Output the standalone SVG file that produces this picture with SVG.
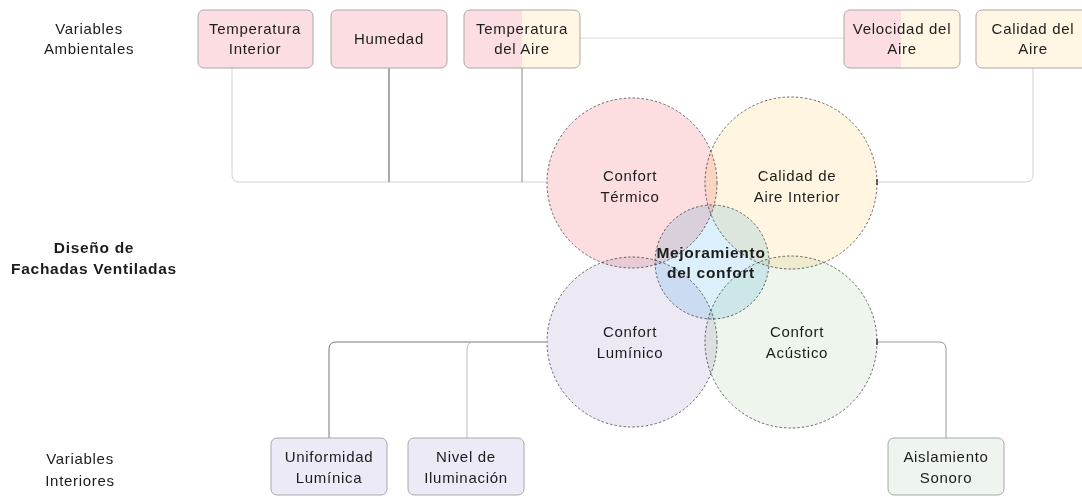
<svg xmlns="http://www.w3.org/2000/svg" width="1082" height="497" viewBox="0 0 1082 497">
<defs>
<style>
text{font-family:"Liberation Sans",Arial,sans-serif;font-size:15px;fill:#1c1c1c;text-anchor:middle;letter-spacing:0.7px}
.b{font-weight:bold;font-size:15.5px;letter-spacing:0.7px}
.box{stroke:#a8a8a8;stroke-width:1}
.pink{fill:#FCDEE2}
.cream{fill:#FFF6E4}
.lav{fill:#ECEAF6}
.green{fill:#EEF5EE}
.c{stroke:#444;stroke-width:0.8;stroke-dasharray:2.5 2;mix-blend-mode:multiply}
.ln{fill:none;stroke-width:1}
</style>
<clipPath id="cpTA"><rect x="464" y="10" width="116" height="58" rx="6"/></clipPath>
<clipPath id="cpVA"><rect x="844" y="10" width="116" height="58" rx="6"/></clipPath>
</defs>
<rect width="1082" height="497" fill="#fff"/>

<g id="connectors">
<path class="ln" d="M232 68 V175 Q232 182 239 182 H547" stroke="#d2d2d2"/>
<line class="ln" x1="389" y1="68" x2="389" y2="182" stroke="#555"/>
<line class="ln" x1="522" y1="68" x2="522" y2="182" stroke="#888"/>
<line class="ln" x1="580" y1="38" x2="844" y2="38" stroke="#dadada" stroke-width="1.5"/>
<path class="ln" d="M1033 68 V175 Q1033 182 1026 182 H877" stroke="#cfcfcf"/>
<line x1="877" y1="179" x2="877" y2="185" stroke="#222" stroke-width="1.2"/>
<path class="ln" d="M546 342 H336 Q329 342 329 349 V438" stroke="#777"/>
<path class="ln" d="M474 342 Q467 342 467 349 V438" stroke="#bbb"/>
<path class="ln" d="M877 342 H939 Q946 342 946 349 V438" stroke="#999"/>
<line x1="877" y1="339" x2="877" y2="345" stroke="#222" stroke-width="1.2"/>
</g>

<g id="circles">
<g id="confort-termico"><circle class="c" cx="632" cy="183" r="85" fill="#FCDDE0"/></g>
<g id="calidad-aire-interior"><circle class="c" cx="791" cy="183" r="86" fill="#FFF5E0"/></g>
<g id="confort-luminico"><circle class="c" cx="632" cy="342" r="85" fill="#ECE9F5"/></g>
<g id="confort-acustico"><circle class="c" cx="791" cy="342" r="86" fill="#EEF5EC"/></g>
<g id="mejoramiento"><circle class="c" cx="712" cy="262" r="57" fill="#DCF0FB"/></g>
</g>
<g id="circle-labels">
<text x="630" y="181">Confort</text>
<text x="630" y="202">Térmico</text>
<text x="797" y="181">Calidad de</text>
<text x="797" y="202">Aire Interior</text>
<text x="630" y="337">Confort</text>
<text x="630" y="358">Lumínico</text>
<text x="797" y="337">Confort</text>
<text x="797" y="358">Acústico</text>
<text class="b" x="711" y="258">Mejoramiento</text>
<text class="b" x="711" y="278">del confort</text>
</g>

<g id="label-ambientales">
<text x="89" y="34">Variables</text>
<text x="89" y="54">Ambientales</text>
</g>
<g id="label-diseno">
<text class="b" x="94" y="253">Diseño de</text>
<text class="b" x="94" y="274">Fachadas Ventiladas</text>
</g>
<g id="label-interiores">
<text x="80" y="464">Variables</text>
<text x="80" y="486">Interiores</text>
</g>

<g id="temperatura-interior">
<rect class="box pink" x="198" y="10" width="115" height="58" rx="6"/>
<text x="255" y="34">Temperatura</text>
<text x="255" y="54">Interior</text>
</g>
<g id="humedad">
<rect class="box pink" x="331" y="10" width="116" height="58" rx="6"/>
<text x="389" y="44">Humedad</text>
</g>
<g id="temperatura-aire">
<g clip-path="url(#cpTA)">
<rect x="464" y="10" width="58" height="58" fill="#FCDEE2"/>
<rect x="522" y="10" width="58" height="58" fill="#FFF6E4"/>
</g>
<rect class="box" x="464" y="10" width="116" height="58" rx="6" fill="none"/>
<text x="522" y="34">Temperatura</text>
<text x="522" y="54">del Aire</text>
</g>
<g id="velocidad-aire">
<g clip-path="url(#cpVA)">
<rect x="844" y="10" width="57" height="58" fill="#FCDEE2"/>
<rect x="901" y="10" width="59" height="58" fill="#FFF6E4"/>
</g>
<rect class="box" x="844" y="10" width="116" height="58" rx="6" fill="none"/>
<text x="902" y="34">Velocidad del</text>
<text x="902" y="54">Aire</text>
</g>
<g id="calidad-aire">
<rect class="box cream" x="976" y="10" width="116" height="58" rx="6"/>
<text x="1033" y="34">Calidad del</text>
<text x="1033" y="54">Aire</text>
</g>

<g id="uniformidad">
<rect class="box lav" x="271" y="438" width="116" height="57" rx="6"/>
<text x="329" y="462">Uniformidad</text>
<text x="329" y="483">Lumínica</text>
</g>
<g id="nivel-iluminacion">
<rect class="box lav" x="408" y="438" width="116" height="57" rx="6"/>
<text x="466" y="462">Nivel de</text>
<text x="466" y="483">Iluminación</text>
</g>
<g id="aislamiento">
<rect class="box green" x="888" y="438" width="116" height="57" rx="6"/>
<text x="946" y="462">Aislamiento</text>
<text x="946" y="483">Sonoro</text>
</g>
</svg>
